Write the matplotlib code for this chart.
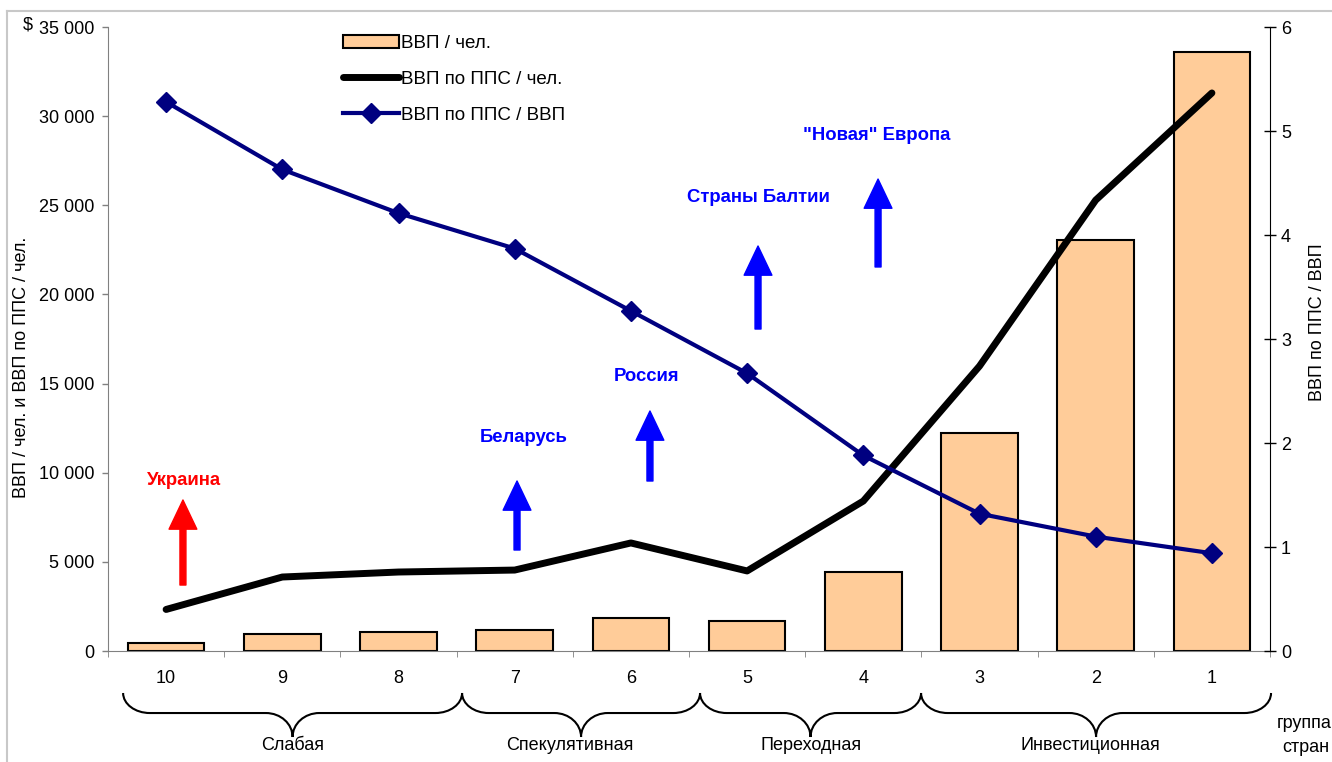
import numpy as np
import matplotlib.pyplot as plt
from matplotlib.path import Path
from matplotlib.patches import PathPatch
from matplotlib.lines import Line2D
from matplotlib.ticker import FuncFormatter
import matplotlib.transforms as mtransforms

plt.rcParams['font.family'] = ['Liberation Sans', 'DejaVu Sans']

# country groups, weakest (10) to strongest (1)
groups = ['10', '9', '8', '7', '6', '5', '4', '3', '2', '1']
gdp_per_capita = [450, 950, 1070, 1180, 1850, 1680, 4430, 12230, 23050, 33600]
gdp_ppp_per_capita = [2330, 4150, 4430, 4540, 6060, 4490, 8410, 15980, 25290, 31300]
ppp_to_gdp = [5.28, 4.63, 4.21, 3.87, 3.27, 2.67, 1.88, 1.32, 1.10, 0.94]

# bracket spans along the category axis and their titles
brace_spans = [(-0.37, 2.547), (2.547, 4.595), (4.595, 6.497), (6.497, 9.509)]
brace_titles = ['Слабая', 'Спекулятивная', 'Переходная', 'Инвестиционная']
brace_label_x = [1.09, 3.47, 5.55, 7.95]

# country notes: text position, arrow x, arrow bottom, arrow tip, colour
notes = [
    ('Украина', 0.154, 9590, 0.145, 3700, 8470, '#FF0000'),
    ('Беларусь', 3.08, 12000, 3.02, 5665, 9535, '#0000FF'),
    ('Россия', 4.138, 15370, 4.164, 9535, 13460, '#0000FF'),
    ('Страны Балтии', 5.094, 25410, 5.094, 18060, 22715, '#0000FF'),
    ('"Новая" Европа', 6.117, 28890, 6.127, 21540, 26470, '#0000FF'),
]

W, H = 1332, 762
fig = plt.figure(figsize=(W / 100, H / 100), dpi=100)
ax = fig.add_axes([108 / W, 1 - 651 / H, (1270 - 108) / W, 624 / H])
ax2 = ax.twinx()

x = np.arange(len(groups))
bars = ax.bar(x, gdp_per_capita, width=0.66, color='#FFCC99', edgecolor='black',
              linewidth=1.5, zorder=2, label='ВВП / чел.')
line_ppp, = ax.plot(x, gdp_ppp_per_capita, color='black', lw=5, zorder=3,
                    solid_capstyle='round', solid_joinstyle='round',
                    label='ВВП по ППС / чел.')
line_ratio, = ax2.plot(x, ppp_to_gdp, color='#000080', lw=3, marker='D', ms=10.5,
                       label='ВВП по ППС / ВВП')

ax.set_xlim(-0.5, 9.5)
ax.set_ylim(0, 35000)
ax2.set_ylim(0, 6)

ax.set_yticks(np.arange(0, 35001, 5000))
ax.yaxis.set_major_formatter(FuncFormatter(lambda v, p: f'{int(v):,}'.replace(',', ' ')))
ax.tick_params(axis='y', direction='out', length=4, width=1, color='#808080',
               labelsize=13, pad=6)
ax2.set_yticks(range(7))
ax2.tick_params(axis='y', direction='inout', length=8, width=1, labelsize=13, pad=4)

ax.set_xticks(x)
ax.set_xticklabels(groups, fontsize=13)
ax.set_xticks(np.arange(-0.5, 10, 1), minor=True)
ax.tick_params(axis='x', which='major', length=0, pad=14)
ax.tick_params(axis='x', which='minor', length=4, color='#808080')

for a in (ax, ax2):
    a.spines['top'].set_visible(False)
ax.spines['right'].set_visible(False)
ax2.spines['left'].set_visible(False)
ax2.spines['bottom'].set_visible(False)
ax.spines['left'].set_color('#808080')
ax.spines['bottom'].set_color('#808080')
ax2.spines['right'].set_color('black')

# arrows and country labels
for label, tx, ty, axx, y0, y1, c in notes:
    ax.annotate('', xy=(axx, y1), xytext=(axx, y0),
                arrowprops=dict(width=4.3, headwidth=20, headlength=21,
                                color=c, shrink=0), zorder=5)
    ax.text(tx, ty, label, color=c, fontsize=13.3, fontweight='bold',
            ha='center', va='center', zorder=5)

# curly brackets under the category axis
trans = mtransforms.blended_transform_factory(ax.transData, ax.transAxes)
top, mid, tip = -0.0673, -0.0994, -0.1378
r, k = 0.23, 0.552
for (x0, x1), title, lx in zip(brace_spans, brace_titles, brace_label_x):
    xm = (x0 + x1) / 2
    verts = [
        (x0, top),
        (x0, top + k * (mid - top)), (x0 + r - k * r, mid), (x0 + r, mid),
        (xm - r, mid),
        (xm - r + k * r, mid), (xm, tip + k * (mid - tip)), (xm, tip),
        (xm, tip + k * (mid - tip)), (xm + r - k * r, mid), (xm + r, mid),
        (x1 - r, mid),
        (x1 - r + k * r, mid), (x1, top + k * (mid - top)), (x1, top),
    ]
    codes = ([Path.MOVETO] + [Path.CURVE4] * 3 + [Path.LINETO] + [Path.CURVE4] * 6
             + [Path.LINETO] + [Path.CURVE4] * 3)
    ax.add_patch(PathPatch(Path(verts, codes), transform=trans, fill=False,
                           lw=1.5, color='black', clip_on=False))
    ax.text(lx, -0.152, title, transform=trans, fontsize=13, ha='center', va='center')

fig.text(1304 / W, 1 - 723 / H, 'группа', fontsize=13, ha='center', va='center')
fig.text(1306 / W, 1 - 747 / H, 'стран', fontsize=13, ha='center', va='center')

fig.text(28 / W, 1 - 25 / H, '$', fontsize=13, ha='center', va='center')
fig.text(22 / W, 1 - 367 / H, 'ВВП / чел. и ВВП по ППС / чел.', fontsize=13,
         rotation=90, ha='center', va='center')
fig.text(1318 / W, 1 - 322 / H, 'ВВП по ППС / ВВП', fontsize=13,
         rotation=90, ha='center', va='center')

fig.legend(handles=[bars, line_ppp, line_ratio], loc='upper left',
           bbox_to_anchor=(343 / W, 1 - 35 / H), frameon=False, fontsize=13.5,
           handlelength=3.0, handletextpad=0.1, labelspacing=1.0,
           borderpad=0, borderaxespad=0)

# thin grey frame of the chart area
fig.add_artist(Line2D([7 / W, 1], [1 - 11 / H, 1 - 11 / H], color='#C8C8C8', lw=1.5))
fig.add_artist(Line2D([7 / W, 7 / W], [0, 1 - 11 / H], color='#C8C8C8', lw=1.5))

fig.savefig('out.png', dpi=100)
